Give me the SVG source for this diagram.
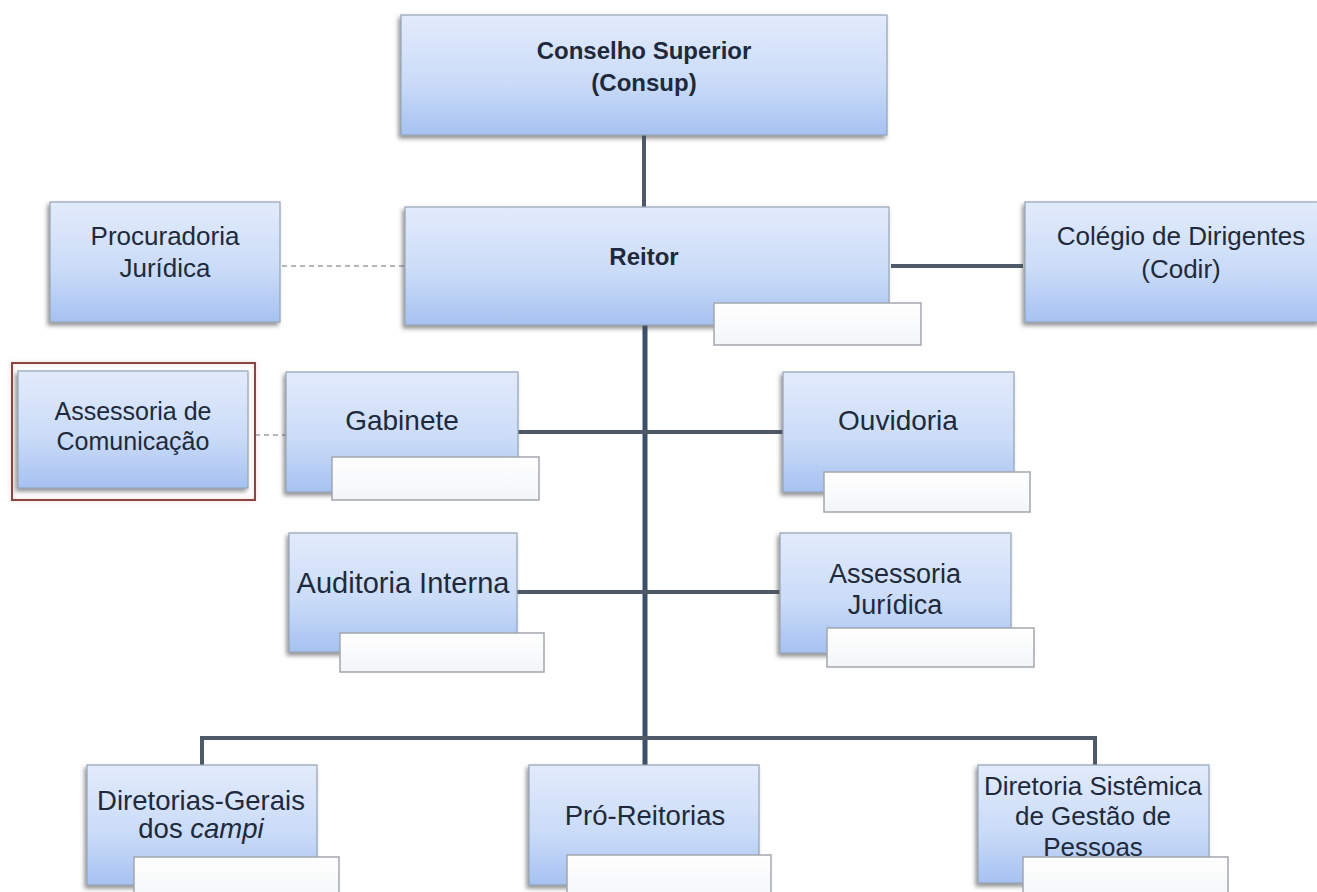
<svg xmlns="http://www.w3.org/2000/svg" width="1317" height="892" viewBox="0 0 1317 892">
  <defs>
    <linearGradient id="boxGrad" x1="0" y1="0" x2="0" y2="1">
      <stop offset="0" stop-color="#e2ebfb"/>
      <stop offset="0.55" stop-color="#cbdcf8"/>
      <stop offset="1" stop-color="#a6c2f1"/>
    </linearGradient>
    <linearGradient id="labelGrad" x1="0" y1="0" x2="0" y2="1">
      <stop offset="0" stop-color="#ffffff"/>
      <stop offset="1" stop-color="#f3f5f7"/>
    </linearGradient>
    <filter id="shadow" x="-10%" y="-10%" width="120%" height="130%">
      <feDropShadow dx="-2" dy="3" stdDeviation="2" flood-color="#4a4a4a" flood-opacity="0.6"/>
    </filter>
    <filter id="glow" x="-10%" y="-10%" width="120%" height="120%">
      <feDropShadow dx="0" dy="0" stdDeviation="2" flood-color="#e8a0a0" flood-opacity="0.5"/>
    </filter>
  </defs>
  <style>
    .box { fill: url(#boxGrad); stroke: #95a3b6; stroke-width: 1.2; filter: url(#shadow); }
    .label { fill: url(#labelGrad); stroke: #a3a7ad; stroke-width: 1.5; }
    .t { font-family: "Liberation Sans", Arial, sans-serif; fill: #1e2a3c; text-anchor: middle; }
    .b { font-weight: bold; }
    .solid { stroke: #4e5a68; stroke-width: 4; fill: none; }
    .main { stroke: #3b506c; stroke-width: 5; fill: none; }
    .dash { stroke: #9aa0a8; stroke-width: 1.5; stroke-dasharray: 5 4; fill: none; }
  </style>
  <rect width="1317" height="892" fill="#ffffff"/>

  <g id="connectors">
    <line class="solid" x1="644" y1="135" x2="644" y2="207"/>
    <line class="dash" x1="282" y1="266" x2="404" y2="266"/>
    <line class="solid" x1="891" y1="266" x2="1023" y2="266" stroke-width="3"/>
    <line class="main" x1="645" y1="325" x2="645" y2="765"/>
    <line class="dash" x1="255" y1="435" x2="286" y2="435"/>
    <line class="solid" x1="518" y1="432" x2="783" y2="432"/>
    <line class="solid" x1="517" y1="592" x2="780" y2="592"/>
    <polyline class="solid" points="202,765 202,738 1095,738 1095,765"/>
  </g>

  <g id="consup">
    <rect class="box" x="401" y="15" width="486" height="120"/>
    <text class="t b" x="644" y="59" font-size="24">Conselho Superior</text>
    <text class="t b" x="644" y="91" font-size="24">(Consup)</text>
  </g>

  <g id="reitor">
    <rect class="box" x="405" y="207" width="484" height="118"/>
    <text class="t b" x="644" y="265" font-size="24">Reitor</text>
    <rect class="label" x="714" y="303" width="207" height="42"/>
  </g>

  <g id="procuradoria">
    <rect class="box" x="50" y="202" width="230" height="120"/>
    <text class="t" x="165" y="245" font-size="26">Procuradoria</text>
    <text class="t" x="165" y="277" font-size="26">Jurídica</text>
  </g>

  <g id="codir">
    <rect class="box" x="1025" y="202" width="295" height="120"/>
    <text class="t" x="1181" y="245" font-size="26">Colégio de Dirigentes</text>
    <text class="t" x="1181" y="278" font-size="26">(Codir)</text>
  </g>

  <g id="assessoria-comunicacao">
    <rect x="12" y="363" width="243" height="137" fill="none" stroke="#8a4444" stroke-width="2" filter="url(#glow)"/>
    <rect class="box" x="18" y="371" width="230" height="117"/>
    <text class="t" x="133" y="420" font-size="25">Assessoria de</text>
    <text class="t" x="133" y="450" font-size="25">Comunicação</text>
  </g>

  <g id="gabinete">
    <rect class="box" x="286" y="372" width="232" height="120"/>
    <text class="t" x="402" y="430" font-size="28">Gabinete</text>
    <rect class="label" x="332" y="457" width="207" height="43"/>
  </g>

  <g id="ouvidoria">
    <rect class="box" x="783" y="372" width="231" height="120"/>
    <text class="t" x="898" y="430" font-size="28">Ouvidoria</text>
    <rect class="label" x="824" y="472" width="206" height="40"/>
  </g>

  <g id="auditoria">
    <rect class="box" x="289" y="533" width="228" height="119"/>
    <text class="t" x="403" y="593" font-size="29">Auditoria Interna</text>
    <rect class="label" x="340" y="633" width="204" height="39"/>
  </g>

  <g id="assessoria-juridica">
    <rect class="box" x="780" y="533" width="231" height="120"/>
    <text class="t" x="895" y="583" font-size="27">Assessoria</text>
    <text class="t" x="895" y="614" font-size="27">Jurídica</text>
    <rect class="label" x="827" y="628" width="207" height="39"/>
  </g>

  <g id="diretorias-gerais">
    <rect class="box" x="87" y="765" width="230" height="120"/>
    <text class="t" x="201" y="810" font-size="27.5">Diretorias-Gerais</text>
    <text class="t" x="201" y="838" font-size="27.5">dos <tspan font-style="italic">campi</tspan></text>
    <rect class="label" x="134" y="857" width="205" height="45"/>
  </g>

  <g id="pro-reitorias">
    <rect class="box" x="529" y="765" width="230" height="120"/>
    <text class="t" x="645" y="825" font-size="27.5">Pró-Reitorias</text>
    <rect class="label" x="567" y="855" width="204" height="45"/>
  </g>

  <g id="diretoria-sistemica">
    <rect class="box" x="978" y="765" width="231" height="118"/>
    <text class="t" x="1093" y="795" font-size="26">Diretoria Sistêmica</text>
    <text class="t" x="1093" y="825" font-size="26">de Gestão de</text>
    <text class="t" x="1093" y="856" font-size="26">Pessoas</text>
    <rect class="label" x="1023" y="857" width="205" height="45"/>
  </g>
</svg>
